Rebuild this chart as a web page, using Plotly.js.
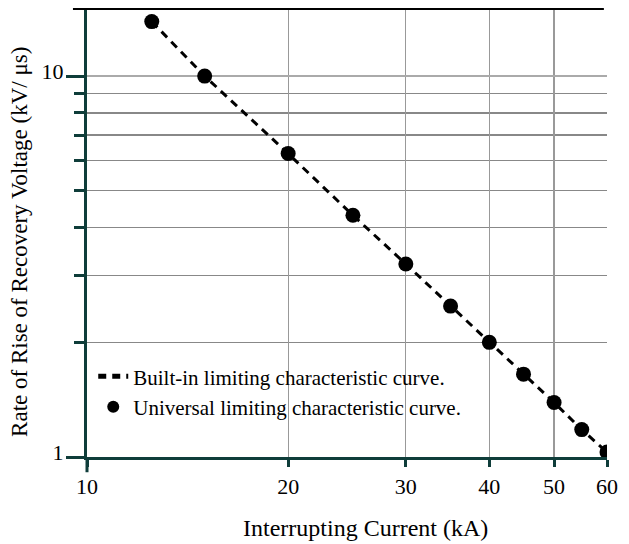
<!DOCTYPE html>
<html>
<head>
<meta charset="utf-8">
<script src="https://cdn.plot.ly/plotly-3.0.1.min.js"></script>
<style>html,body{margin:0;padding:0;background:#fff;}#chart{width:629px;height:544px;}</style>
</head>
<body>
<div id="chart"></div>
<script>
// Interrupting current (kA)
var currentKA = [12.5, 15, 20, 25, 30, 35, 40, 45, 50, 55, 60];
// Rate of rise of recovery voltage (kV/us) - universal limiting characteristic points
var rrrvUniversal = [13.9, 10.0, 6.26, 4.31, 3.21, 2.49, 2.0, 1.65, 1.39, 1.18, 1.03];
// Built-in limiting characteristic curve
var curveKA = [12.5, 15, 20, 25, 30, 35, 40, 45, 50, 55, 60];
var curveRRRV = [13.9, 10.0, 6.26, 4.31, 3.21, 2.49, 2.0, 1.65, 1.39, 1.18, 1.03];

var xTickVals = [10, 20, 30, 40, 50, 60];
var xTickText = ["10", "20", "30", "40", "50", "60"];
var yMajorVals = [1, 10];
var yMajorText = ["1", "10"];
var yMinorVals = [2, 3, 4, 5, 6, 7, 8, 9];

var xTitle = "Interrupting Current (kA)";
var yTitle = "Rate of Rise of Recovery Voltage (kV/ μs)";

var serif = "Liberation Serif, Times New Roman, serif";
var axisColor = "#0f3d3a";
var fs = 22;

var traces = [
  {
    x: curveKA, y: curveRRRV, type: "scatter", mode: "lines",
    name: "Built-in limiting characteristic curve.",
    line: {color: "#000", width: 3, dash: "8px,6px"}
  },
  {
    x: currentKA, y: rrrvUniversal, type: "scatter", mode: "markers",
    name: "Universal limiting characteristic curve.",
    marker: {color: "#000", size: 15}
  }
];

var layout = {
  width: 629, height: 544,
  margin: {l: 87, r: 22, t: 9, b: 87},
  paper_bgcolor: "#fff", plot_bgcolor: "#fff",
  font: {family: serif, size: fs, color: "#000"},
  showlegend: true,
  legend: {
    x: 0.012, y: 0.225, xanchor: "left", yanchor: "top",
    bgcolor: "rgba(0,0,0,0)", borderwidth: 0,
    font: {family: serif, size: 21, color: "#000"},
    tracegroupgap: 0, itemwidth: 30, itemsizing: "constant"
  },
  xaxis: {
    type: "log", range: [1, Math.log10(60)],
    tickmode: "array", tickvals: xTickVals, ticktext: xTickText,
    ticks: "outside", ticklen: 7, tickwidth: 3, tickcolor: axisColor,
    showline: true, linecolor: axisColor, linewidth: 3,
    showgrid: true, gridcolor: "#999", gridwidth: 1.2,
    zeroline: false, ticklabelstandoff: 1,
    tickfont: {family: serif, size: fs, color: "#000"}
  },
  yaxis: {
    type: "log", range: [0, Math.log10(15)],
    tickmode: "array", tickvals: yMajorVals, ticktext: yMajorText,
    ticks: "outside", ticklen: 18, tickwidth: 3, tickcolor: axisColor,
    minor: {tickmode: "array", tickvals: yMinorVals, ticks: "outside", ticklen: 10, tickwidth: 3, tickcolor: axisColor, showgrid: true, gridcolor: "#888", gridwidth: 1.2},
    showline: true, linecolor: axisColor, linewidth: 3,
    showgrid: true, gridcolor: "#aaa", gridwidth: 1.5,
    zeroline: false, ticklabelstandoff: -2, ticklabelshift: -5,
    tickfont: {family: serif, size: fs, color: "#000"}
  },
  annotations: [
    {text: xTitle, xref: "paper", yref: "paper", x: 0.535, y: -0.158, xanchor: "center", yanchor: "middle", showarrow: false, font: {family: serif, size: 24, color: "#000"}},
    {text: yTitle, xref: "paper", yref: "paper", x: -0.129, y: 0.48, xanchor: "center", yanchor: "middle", textangle: -90, showarrow: false, font: {family: serif, size: 23, color: "#000"}}
  ],
  shapes: [
    {type: "line", xref: "paper", yref: "paper", x0: -0.027, x1: 0.994, y0: 1, y1: 1, line: {color: "#000", width: 2}},
    {type: "line", xref: "paper", yref: "paper", x0: 0, x1: 0, y0: 0, y1: -0.034, line: {color: axisColor, width: 3}}
  ]
};

Plotly.newPlot("chart", traces, layout, {displayModeBar: false, staticPlot: true});
</script>
</body>
</html>
